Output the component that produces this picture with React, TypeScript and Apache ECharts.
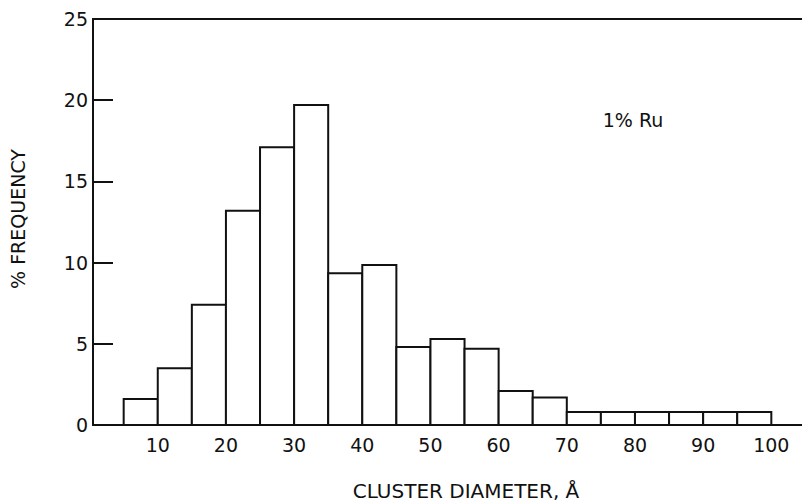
import React, { useEffect, useRef } from "react";
import * as echarts from "echarts";

// Histogram bins: lower edge, upper edge (Å) and % frequency
const binStarts = [5, 10, 15, 20, 25, 30, 35, 40, 45, 50, 55, 60, 65, 70, 75, 80, 85, 90, 95];
const binEnds = [10, 15, 20, 25, 30, 35, 40, 45, 50, 55, 60, 65, 70, 75, 80, 85, 90, 95, 100];
const frequency = [1.6, 3.5, 7.4, 13.2, 17.1, 19.7, 9.35, 9.85, 4.8, 5.3, 4.7, 2.1, 1.7, 0.8, 0.8, 0.8, 0.8, 0.8, 0.8];
const xTickLabels = [10, 20, 30, 40, 50, 60, 70, 80, 90, 100];
const yTickLabels = [0, 5, 10, 15, 20, 25];

const FONT = "DejaVu Sans";
const INK = "#111";

export default function App() {
  const ref = useRef<HTMLDivElement>(null);

  useEffect(() => {
    if (!ref.current) return;
    document.body.style.margin = "0";
    const chart = echarts.init(ref.current, null, { renderer: "svg" });
    const data = binStarts.map((s, i) => [s, binEnds[i], frequency[i]]);

    chart.setOption({
      animation: false,
      backgroundColor: "#fff",
      grid: { left: 93, right: 0, top: 19, bottom: 78 },
      xAxis: [
        {
          type: "value",
          min: 0.5,
          max: 104.5,
          splitLine: { show: false },
          axisLine: { show: true, onZero: false, lineStyle: { color: INK, width: 2 } },
          axisTick: { show: false },
          axisLabel: {
            customValues: xTickLabels,
            color: INK,
            fontFamily: FONT,
            fontSize: 19,
            margin: 10,
          },
        },
        {
          type: "value",
          position: "top",
          min: 0.5,
          max: 104.5,
          splitLine: { show: false },
          axisLine: { show: true, onZero: false, lineStyle: { color: INK, width: 2 } },
          axisTick: { show: false },
          axisLabel: { show: false },
        },
      ],
      yAxis: {
        type: "value",
        min: 0,
        max: 25,
        interval: 5,
        splitLine: { show: false },
        axisLine: { show: true, onZero: false, lineStyle: { color: INK, width: 2 } },
        axisTick: { show: true, inside: true, length: 20, lineStyle: { color: INK, width: 2 } },
        axisLabel: {
          customValues: yTickLabels,
          color: INK,
          fontFamily: FONT,
          fontSize: 19,
          margin: 5,
        },
      },
      series: [
        {
          type: "custom",
          xAxisIndex: 0,
          yAxisIndex: 0,
          data,
          encode: { x: [0, 1], y: 2 },
          renderItem: (params: any, api: any) => {
            const p0 = api.coord([api.value(0), api.value(2)]);
            const p1 = api.coord([api.value(1), 0]);
            return {
              type: "rect",
              shape: { x: p0[0], y: p0[1], width: p1[0] - p0[0], height: p1[1] - p0[1] },
              style: { fill: "#fff", stroke: INK, lineWidth: 2 },
            };
          },
        },
      ],
      graphic: [
        {
          type: "text",
          x: 633,
          y: 120,
          style: {
            text: "1% Ru",
            fill: INK,
            font: `19px "${FONT}"`,
            align: "center",
            verticalAlign: "middle",
          },
        },
        {
          type: "text",
          x: 466,
          y: 491,
          style: {
            text: "CLUSTER DIAMETER, Å",
            fill: INK,
            font: `20px "${FONT}"`,
            align: "center",
            verticalAlign: "middle",
          },
        },
        {
          type: "text",
          x: 18,
          y: 219,
          rotation: Math.PI / 2,
          style: {
            text: "% FREQUENCY",
            fill: INK,
            font: `19px "${FONT}"`,
            align: "center",
            verticalAlign: "middle",
          },
        },
      ],
    });

    return () => chart.dispose();
  }, []);

  return <div ref={ref} style={{ width: 802, height: 503 }} />;
}
